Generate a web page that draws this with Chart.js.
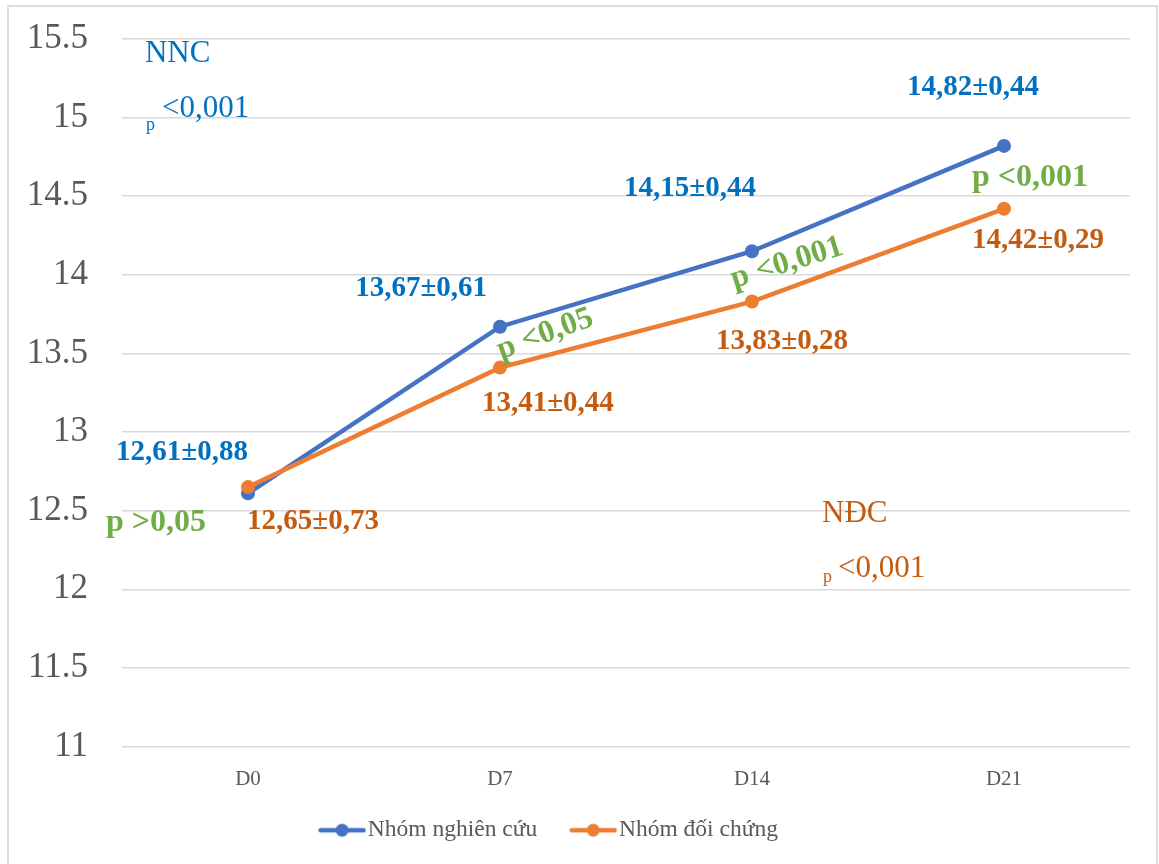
<!DOCTYPE html>
<html>
<head>
<meta charset="utf-8">
<script src="https://cdn.jsdelivr.net/npm/chart.js@4.4.1/dist/chart.umd.min.js"></script>
<style>
  html, body { margin: 0; padding: 0; background: #fff; }
  #wrap { position: relative; width: 1159px; height: 864px; overflow: hidden; }
  #frame { position: absolute; left: 7px; top: 5px; width: 1151px; height: 900px;
           border: 2px solid #dcdcdc; border-bottom: none; box-sizing: border-box; }
  canvas { position: absolute; left: 0; top: 0; }
</style>
</head>
<body>
<div id="wrap">
  <div id="frame"></div>
  <canvas id="c" width="1159" height="864"></canvas>
</div>
<script>
// Measurement days
const days = ['D0', 'D7', 'D14', 'D21'];

// Mean ± SD per group
const studyMeans = [12.61, 13.67, 14.15, 14.82];
const studySD = [0.88, 0.61, 0.44, 0.44];
const controlMeans = [12.65, 13.41, 13.83, 14.42];
const controlSD = [0.73, 0.44, 0.28, 0.29];

// Between-group p-values per day
const pLabels = ['p >0,05', 'p <0,05', 'p <0,001', 'p <0,001'];

// Within-group trend notes
const groupShort = ['NNC', 'NĐC'];
const trendP = ['<0,001', '<0,001'];

// Y axis ticks
const yTicks = [11, 11.5, 12, 12.5, 13, 13.5, 14, 14.5, 15, 15.5];

const seriesNames = ['Nhóm nghiên cứu', 'Nhóm đối chứng'];

const COLORS = {
  studyLine: '#4472C4',
  controlLine: '#ED7D31',
  studyText: '#0070C0',
  controlText: '#C55A11',
  pText: '#70AD47',
  axisText: '#595959',
  grid: '#D9D9D9'
};

const SERIF = '"Liberation Serif", "Times New Roman", serif';

function vn(n) { return n.toFixed(2).replace('.', ','); }
function meanSd(m, sd) { return vn(m) + '±' + vn(sd); }

// Where each annotation sits, in axis units: [category index, y value]
const studyLabelAt = [[-0.262, 12.871], [0.687, 13.915], [1.754, 14.552], [2.877, 15.194]];
const controlLabelAt = [[0.258, 12.432], [1.190, 13.183], [2.119, 13.578], [3.135, 14.221]];
const pLabelAt = [[-0.365, 12.426], [1.179, 13.622], [2.139, 14.074], [3.103, 14.615]];
const pLabelAngle = [0, -20, -17, 0];
const groupNoteAt = [[-0.409, 15.405], [2.278, 12.477]];
const trendAt = [[-0.341, 15.054], [2.341, 12.127]];
const trendSubAt = [[-0.405, 14.953], [2.282, 12.076]];

function legendMarker(color) {
  const cv = document.createElement('canvas');
  cv.width = 48; cv.height = 16;
  const g = cv.getContext('2d');
  g.strokeStyle = color; g.lineWidth = 4.5; g.lineCap = 'round';
  g.beginPath(); g.moveTo(2.5, 8); g.lineTo(45.5, 8); g.stroke();
  g.fillStyle = color;
  g.beginPath(); g.arc(24, 8, 6.5, 0, Math.PI * 2); g.fill();
  return cv;
}

const annotationPlugin = {
  id: 'annotations',
  afterDatasetsDraw(chart) {
    const ctx = chart.ctx;
    const xs = chart.scales.x, ys = chart.scales.y;
    const px = p => [xs.getPixelForValue(p[0]), ys.getPixelForValue(p[1])];
    ctx.save();
    ctx.textBaseline = 'middle';

    function put(text, at, font, color, align, angle) {
      const [x, y] = px(at);
      ctx.save();
      ctx.translate(x, y);
      if (angle) ctx.rotate(angle * Math.PI / 180);
      ctx.font = font;
      ctx.fillStyle = color;
      ctx.textAlign = align || 'center';
      ctx.fillText(text, 0, 0);
      ctx.restore();
    }

    const bold = 'bold 29px ' + SERIF;
    const boldP = 'bold 32px ' + SERIF;
    days.forEach((d, i) => {
      put(meanSd(studyMeans[i], studySD[i]), studyLabelAt[i], bold, COLORS.studyText);
      put(meanSd(controlMeans[i], controlSD[i]), controlLabelAt[i], bold, COLORS.controlText);
      put(pLabels[i], pLabelAt[i], boldP, COLORS.pText, 'center', pLabelAngle[i]);
    });

    const noteColors = [COLORS.studyText, COLORS.controlText];
    groupShort.forEach((g, i) => {
      put(g, groupNoteAt[i], '31px ' + SERIF, noteColors[i], 'left');
      put('p', trendSubAt[i], '18px ' + SERIF, noteColors[i], 'left');
      put(trendP[i], trendAt[i], '31px ' + SERIF, noteColors[i], 'left');
    });
    ctx.restore();
  }
};

// Nudge the legend row a little left of centre and give the
// category labels room below their (short) axis box
const layoutTweaks = {
  id: 'layoutTweaks',
  afterLayout(chart) {
    const lg = chart.legend;
    if (lg) { lg.left -= 12; lg.right -= 12; }
    const xs = chart.scales.x;
    if (xs) { xs.bottom += 30; }
  }
};

new Chart(document.getElementById('c'), {
  type: 'line',
  data: {
    labels: days,
    datasets: [
      {
        label: seriesNames[0],
        data: studyMeans,
        borderColor: COLORS.studyLine,
        backgroundColor: COLORS.studyLine,
        borderWidth: 4.5,
        pointRadius: 7,
        pointHoverRadius: 7,
        pointBorderWidth: 0,
        tension: 0,
        order: 2
      },
      {
        label: seriesNames[1],
        data: controlMeans,
        borderColor: COLORS.controlLine,
        backgroundColor: COLORS.controlLine,
        borderWidth: 4.5,
        pointRadius: 7,
        pointHoverRadius: 7,
        pointBorderWidth: 0,
        tension: 0,
        order: 1
      }
    ]
  },
  options: {
    responsive: false,
    animation: false,
    layout: { padding: { left: 0, right: 29, top: 39, bottom: 12 } },
    scales: {
      x: {
        offset: true,
        grid: { display: false, drawTicks: false },
        border: { display: false },
        ticks: { color: COLORS.axisText, font: { family: SERIF, size: 21 }, padding: 20 },
        afterFit(scale) { scale.height = 30; }
      },
      y: {
        min: 11,
        max: 15.5,
        grid: { color: COLORS.grid, lineWidth: 1.5, drawTicks: false },
        border: { display: false },
        afterBuildTicks(scale) { scale.ticks = yTicks.map(v => ({ value: v })); },
        ticks: {
          color: COLORS.axisText,
          font: { family: SERIF, size: 35 },
          padding: 34,
          callback: v => String(v)
        },
        afterFit(scale) {
          scale.width = 122;
          scale.paddingTop = 20;
          scale.paddingBottom = 20;
        }
      }
    },
    plugins: {
      tooltip: { enabled: false },
      legend: {
        position: 'bottom',
        labels: {
          usePointStyle: true,
          pointStyleWidth: 28,
          padding: 42,
          color: COLORS.axisText,
          font: { family: SERIF, size: 23.5 },
          sort: (a, b) => a.datasetIndex - b.datasetIndex,
          generateLabels(chart) {
            const items = Chart.defaults.plugins.legend.labels.generateLabels(chart);
            return items.map(it => {
              const ds = chart.data.datasets[it.datasetIndex];
              it.pointStyle = legendMarker(ds.borderColor);
              it.rotation = 0;
              return it;
            });
          }
        }
      }
    }
  },
  plugins: [annotationPlugin, layoutTweaks]
});
</script>
</body>
</html>
